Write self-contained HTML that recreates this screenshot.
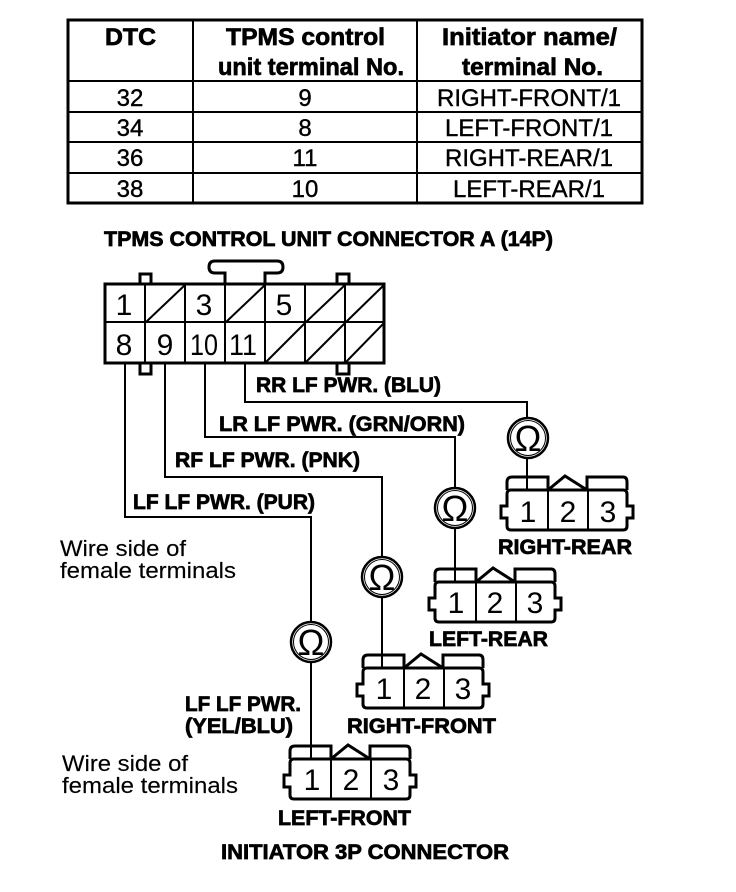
<!DOCTYPE html>
<html><head><meta charset="utf-8"><style>
html,body{margin:0;padding:0;background:#fff}
svg{display:block}
text{font-family:"Liberation Sans",sans-serif;fill:#000}
.b{font-weight:700;font-size:21px;stroke:#000;stroke-width:.7}
.h{font-weight:700;font-size:24px;stroke:#000;stroke-width:.7}
.r{font-size:24px;stroke:#000;stroke-width:.4}
.n{font-size:30px}
.om{font-size:36px}
.w{font-size:22px;stroke:#000;stroke-width:.15}
.m{text-anchor:middle}
path,line,rect,circle{fill:none;stroke:#000}
</style></head><body>
<svg width="736" height="892" viewBox="0 0 736 892" xmlns="http://www.w3.org/2000/svg">
<defs>
<g id="c">
<path stroke-width="3" d="M4 0H116Q120 0 120 4V16H126V28H120V36Q120 40 116 40H4Q0 40 0 36V28H-6V16H0V4Q0 0 4 0Z"/>
<path stroke-width="3" d="M0 0V-8Q0 -13 5 -13H41V0M41 0L58 -14L80 0M80 0V-13H116Q120 -13 120 -8V0"/>
<line x1="41" y1="0" x2="41" y2="40" stroke-width="2"/>
<line x1="81" y1="0" x2="81" y2="40" stroke-width="2"/>
</g>
<g id="o"><circle r="20" stroke-width="2.5"/><circle r="17.5" stroke-width="1"/></g>
</defs>

<rect x="68" y="20" width="574" height="183" stroke-width="3"/>
<path stroke-width="2" d="M193 20V203M417 20V203M68 81H642M68 112H642M68 142H642M68 173H642"/>
<text class="h" x="105" y="45" lengthAdjust="spacingAndGlyphs" textLength="51">DTC</text>
<text class="h" x="226" y="45" lengthAdjust="spacingAndGlyphs" textLength="159">TPMS control</text>
<text class="h" x="218" y="75" lengthAdjust="spacingAndGlyphs" textLength="186">unit terminal No.</text>
<text class="h" x="442" y="45" lengthAdjust="spacingAndGlyphs" textLength="175">Initiator name/</text>
<text class="h" x="462" y="75" lengthAdjust="spacingAndGlyphs" textLength="141">terminal No.</text>
<text class="r m" x="130" y="106">32</text><text class="r m" x="305" y="106">9</text><text class="r m" x="529" y="106">RIGHT-FRONT/1</text>
<text class="r m" x="130" y="136">34</text><text class="r m" x="305" y="136">8</text><text class="r m" x="529" y="136">LEFT-FRONT/1</text>
<text class="r m" x="130" y="166">36</text><text class="r m" x="305" y="166">11</text><text class="r m" x="529" y="166">RIGHT-REAR/1</text>
<text class="r m" x="130" y="197">38</text><text class="r m" x="305" y="197">10</text><text class="r m" x="529" y="197">LEFT-REAR/1</text>

<text class="b" x="104" y="246" lengthAdjust="spacingAndGlyphs" textLength="449">TPMS CONTROL UNIT CONNECTOR A (14P)</text>

<path stroke-width="3" d="M140 284V274H151V284M337 284V274H349V284M140 363V374H151V363M337 363V374H349V363"/>
<path stroke-width="3" d="M225 284V273H215Q209 273 209 267Q209 261 215 261H277Q283 261 283 267Q283 273 277 273H265V284"/>
<rect x="105" y="284" width="279" height="79" stroke-width="3"/>
<path stroke-width="2" d="M105 322H384M145 284V363M185 284V363M225 284V363M265 284V363M305 284V363M345 284V363"/>
<path stroke-width="2" d="M146 322L185 285M226 322L265 285M306 322L345 285M346 322L384 285M266 362L305 323M306 362L345 323M346 362L384 323"/>
<text class="n m" x="124" y="315">1</text><text class="n m" x="204" y="315">3</text><text class="n m" x="284" y="315">5</text>
<text class="n m" x="124" y="355">8</text><text class="n m" x="165" y="355">9</text><text class="n" x="190" y="355" lengthAdjust="spacingAndGlyphs" textLength="28">10</text><text class="n" x="229" y="355" lengthAdjust="spacingAndGlyphs" textLength="28">11</text>

<path stroke-width="2" d="M245 363V402H527V418M205 363V437H455V488M165 363V477H382V557M125 363V517H311V622"/>
<path stroke-width="2" d="M527 458V490M455 528V582M382 597V668M311 662V759"/>
<text class="b" x="256" y="392" lengthAdjust="spacingAndGlyphs" textLength="185">RR LF PWR. (BLU)</text>
<text class="b" x="219" y="431" lengthAdjust="spacingAndGlyphs" textLength="246">LR LF PWR. (GRN/ORN)</text>
<text class="b" x="175" y="467" lengthAdjust="spacingAndGlyphs" textLength="185">RF LF PWR. (PNK)</text>
<text class="b" x="133" y="509" lengthAdjust="spacingAndGlyphs" textLength="182">LF LF PWR. (PUR)</text>
<text class="w" x="60" y="556" lengthAdjust="spacingAndGlyphs" textLength="126">Wire side of</text>
<text class="w" x="60" y="578" lengthAdjust="spacingAndGlyphs" textLength="176">female terminals</text>
<text class="b" x="185" y="711" lengthAdjust="spacingAndGlyphs" textLength="116">LF LF PWR.</text>
<text class="b" x="185" y="733" lengthAdjust="spacingAndGlyphs" textLength="108">(YEL/BLU)</text>
<text class="w" x="62" y="771" lengthAdjust="spacingAndGlyphs" textLength="126">Wire side of</text>
<text class="w" x="62" y="793" lengthAdjust="spacingAndGlyphs" textLength="176">female terminals</text>

<use href="#o" x="528" y="438"/><text class="om m" x="528" y="451">Ω</text>
<use href="#o" x="455" y="508"/><text class="om m" x="455" y="521">Ω</text>
<use href="#o" x="382" y="577"/><text class="om m" x="382" y="590">Ω</text>
<use href="#o" x="311" y="642"/><text class="om m" x="311" y="655">Ω</text>

<use href="#c" x="507" y="490"/>
<text class="n m" x="528" y="522">1</text><text class="n m" x="568" y="522">2</text><text class="n m" x="608" y="522">3</text>
<use href="#c" x="435" y="582"/>
<text class="n m" x="456" y="613">1</text><text class="n m" x="495" y="613">2</text><text class="n m" x="535" y="613">3</text>
<use href="#c" x="363" y="668"/>
<text class="n m" x="384" y="699">1</text><text class="n m" x="423" y="699">2</text><text class="n m" x="463" y="699">3</text>
<use href="#c" x="290" y="759"/>
<text class="n m" x="312" y="790">1</text><text class="n m" x="351" y="790">2</text><text class="n m" x="391" y="790">3</text>

<text class="b" x="498" y="554" lengthAdjust="spacingAndGlyphs" textLength="134">RIGHT-REAR</text>
<text class="b" x="429" y="646" lengthAdjust="spacingAndGlyphs" textLength="119">LEFT-REAR</text>
<text class="b" x="347" y="733" lengthAdjust="spacingAndGlyphs" textLength="149">RIGHT-FRONT</text>
<text class="b" x="278" y="825" lengthAdjust="spacingAndGlyphs" textLength="133">LEFT-FRONT</text>
<text class="b" x="221" y="859" lengthAdjust="spacingAndGlyphs" textLength="288">INITIATOR 3P CONNECTOR</text>
</svg>
</body></html>
